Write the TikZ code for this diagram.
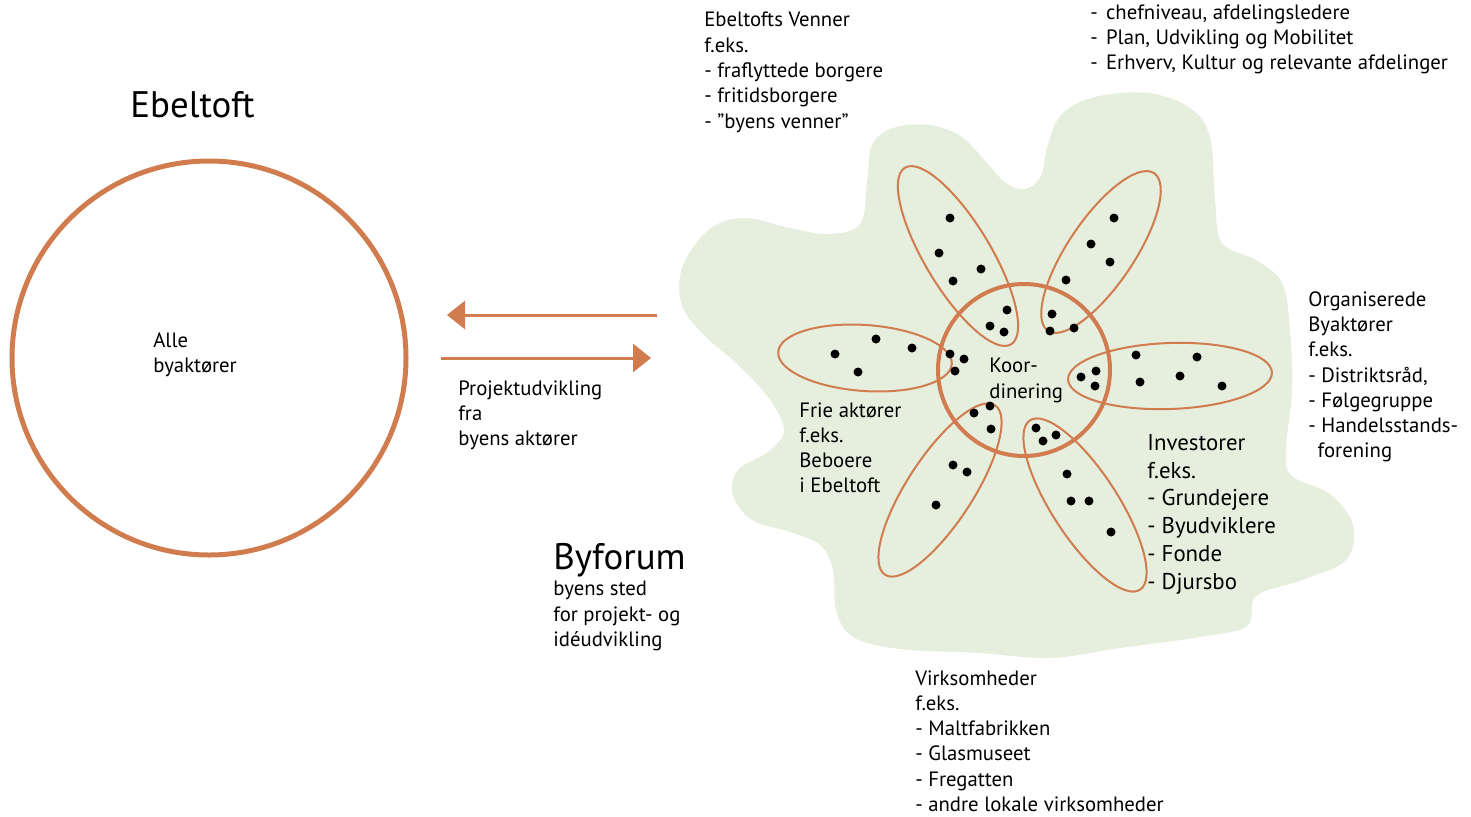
\documentclass[tikz,border=0pt]{standalone}
\usepackage{fontspec}
\setmainfont{PT Sans}
\usepackage{tikz}
\usetikzlibrary{calc,positioning,arrows.meta}

\definecolor{rust}{RGB}{208,124,78}
\definecolor{sage}{RGB}{230,238,222}

\tikzset{
  lbl/.style={inner sep=0pt,anchor=north west,align=left,font=\fontsize{11.8}{14.4}\selectfont},
  biglbl/.style={inner sep=0pt,anchor=north west,align=left,font=\fontsize{13}{15.8}\selectfont},
  title/.style={inner sep=0pt,anchor=north west,font=\fontsize{21}{26}\selectfont},
  petal/.style={draw=rust,line width=0.4mm},
  flow/.style={draw=rust,line width=0.6mm,-{Triangle[length=3.6mm,width=5.6mm]}},
  dot/.style={fill=black}
}

\begin{document}
\begin{tikzpicture}[x=0.2mm,y=-0.2mm]
		\useasboundingbox (0,0) rectangle (1471,816);
		% byforum blob
		\fill[sage] plot[smooth cycle,tension=0.6] coordinates {
			(867,182) (872,145) (893,128) (930,125) (962,137) (986,162) (1006,183)
			(1025,189) (1041,176) (1047,148) (1061,115) (1095,97) (1148,93) (1190,108)
			(1210,137) (1215,200) (1222,243) (1256,260) (1282,283) (1290,330) (1292,390)
			(1286,450) (1292,476) (1330,494) (1353,525) (1346,560) (1302,580) (1256,596)
			(1247,626) (1200,637) (1120,648) (1050,658) (980,653) (900,649) (853,637)
			(836,610) (833,570) (820,545) (790,532) (752,520) (733,495) (738,470)
			(768,452) (784,430) (768,397) (736,363) (705,336) (683,308) (680,276)
			(692,249) (714,226) (746,218) (790,228) (828,234) (860,224)};

		% all actors
		\node(alle) [circle,draw=rust,line width=1mm,minimum size=78.8mm] at (209,358) {};
		\node(ebeltoft) [title] at (130,91) {Ebeltoft};
		\node(allelbl) [lbl] at (153,332) {Alle\\byaktører};

		% arrows
		\coordinate (inA) at (657,315);
		\coordinate (inB) at (447,315);
		\coordinate (outA) at (441,358);
		\coordinate (outB) at (651,358);
		\draw[flow] (inA) -- (inB);
		\draw[flow] (outA) -- (outB);
		\node(projekt) [lbl] at (458,380) {Projektudvikling\\fra\\byens aktører};

		% petals
		\draw[petal,rotate around={-59:(958,256)}] (958,256) ellipse [x radius=103,y radius=33];
		\draw[petal,rotate around={56:(1101,252)}] (1101,252) ellipse [x radius=95,y radius=33];
		\draw[petal,rotate around={-4:(865,358)}] (865,358) ellipse [x radius=87,y radius=33];
		\draw[petal,rotate around={2:(1170,376)}] (1170,376) ellipse [x radius=102,y radius=33];
		\draw[petal,rotate around={57:(940,490)}] (940,490) ellipse [x radius=101,y radius=33];
		\draw[petal,rotate around={-57:(1085,505)}] (1085,505) ellipse [x radius=101,y radius=33];

		% coordination
		\node(koord) [circle,draw=rust,line width=0.8mm,minimum size=34.4mm] at (1024,370) {};
		\node(koordlbl) [lbl] at (989,358) {Koor-\\dinering};

		% dots
		\foreach \p in {(950,218),(939,253),(981,269),(953,281),(1007,310),(990,326),(1004,332),
			(1114,218),(1091,244),(1110,262),(1066,280),(1052,314),(1074,328),(1050,331),
			(835,354),(876,339),(912,348),(858,372),(950,354),(964,359),(955,371),
			(1081,377),(1096,371),(1095,386),(1136,355),(1197,357),(1140,382),(1180,376),(1222,386),
			(990,406),(974,413),(991,429),(953,465),(967,472),(936,505),
			(1036,428),(1056,435),(1043,441),(1067,474),(1071,501),(1089,501),(1111,532)}
			\fill[dot] \p circle [radius=4.5];

		% labels
		\node(venner) [lbl] at (704,12) {Ebeltofts Venner\\f.eks.\\- fraflyttede borgere\\- fritidsborgere\\- ”byens venner”};
		\node(kommune) [lbl] at (1090,4) {-\hspace{0.4em}chefniveau, afdelingsledere\\-\hspace{0.4em}Plan, Udvikling og Mobilitet\\-\hspace{0.4em}Erhverv, Kultur og relevante afdelinger};
		\node(organ) [lbl] at (1308,291) {Organiserede\\Byaktører\\f.eks.\\- Distriktsråd,\\- Følgegruppe\\- Handelsstands-\\\hspace*{0.45em}forening};
		\node(frie) [lbl] at (799,402) {Frie aktører\\f.eks.\\Beboere\\i Ebeltoft};
		\node(invest) [biglbl] at (1147,434) {Investorer\\f.eks.\\- Grundejere\\- Byudviklere\\- Fonde\\- Djursbo};
		\node(virk) [lbl] at (915,670) {Virksomheder\\f.eks.\\- Maltfabrikken\\- Glasmuseet\\- Fregatten\\- andre lokale virksomheder};
		\node(byforum) [title] at (553,543) {Byforum};
		\node(byforumlbl) [lbl] at (553,581) {byens sted\\for projekt- og\\idéudvikling};
	\end{tikzpicture}
\end{document}
